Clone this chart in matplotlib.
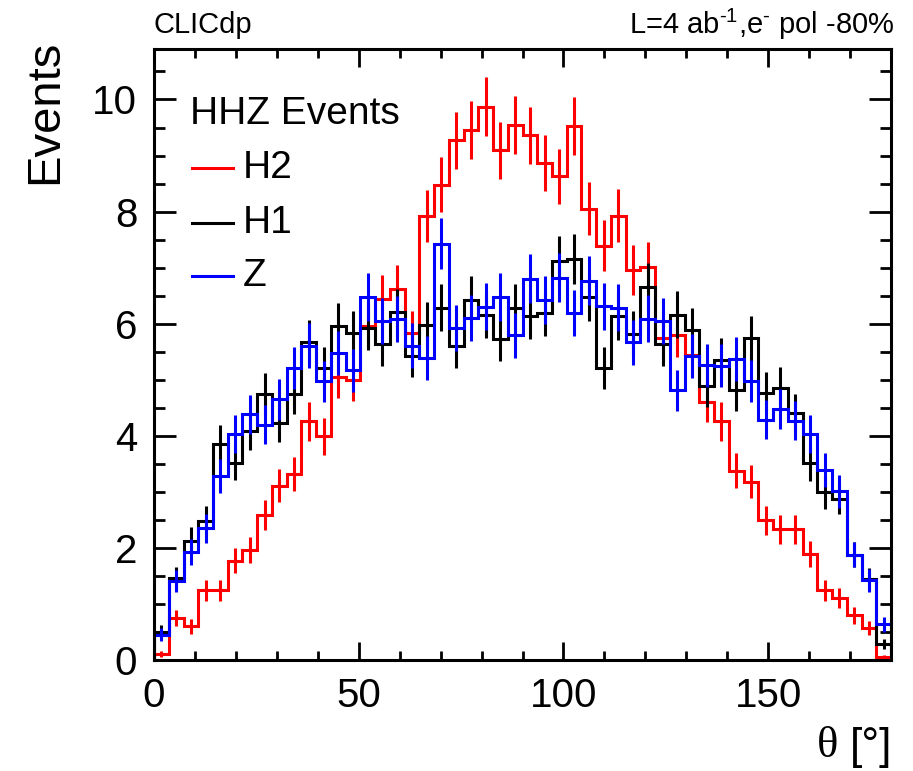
import numpy as np
import matplotlib
matplotlib.use("Agg")
import matplotlib.pyplot as plt
from matplotlib.ticker import MultipleLocator

plt.rcParams["font.family"] = ["Liberation Sans", "DejaVu Sans"]
plt.rcParams["mathtext.default"] = "regular"

# ---------------------------------------------------------------------------
# Data: 50 bins of theta over [0, 180] degrees
# ---------------------------------------------------------------------------
theta_range = (0.0, 180.0)
n_bins = 50

h2_events = [0.10, 0.75, 0.60, 1.24, 1.24, 1.77, 1.96, 2.59, 3.11, 3.32,
             4.26, 3.99, 5.05, 5.00, 5.95, 6.44, 6.62, 5.83, 7.92, 8.48,
             9.27, 9.46, 9.87, 9.09, 9.55, 9.36, 8.86, 8.63, 9.52, 8.05,
             7.39, 7.93, 6.96, 7.01, 5.74, 5.80, 5.45, 4.61, 4.26, 3.38,
             3.18, 2.49, 2.33, 2.33, 1.89, 1.24, 1.10, 0.80, 0.57, 0.05]

h1_events = [0.50, 1.46, 2.13, 2.48, 3.86, 3.52, 4.08, 4.75, 4.23, 4.75,
             5.67, 5.21, 5.96, 5.83, 5.93, 5.64, 6.20, 5.43, 5.98, 6.28,
             5.61, 6.42, 6.16, 5.73, 6.28, 6.14, 6.19, 7.11, 7.16, 6.48,
             5.21, 6.13, 5.82, 6.65, 5.64, 6.16, 5.88, 4.89, 5.35, 4.81,
             5.74, 4.77, 4.86, 4.40, 3.51, 2.99, 2.88, 1.88, 1.44, 0.28]

z_events = [0.45, 1.41, 1.92, 2.35, 3.29, 4.03, 4.38, 4.20, 4.65, 5.21,
            5.61, 4.97, 5.47, 5.17, 6.48, 6.05, 6.08, 5.61, 5.39, 7.43,
            5.92, 6.10, 6.30, 6.48, 5.79, 6.80, 6.42, 6.82, 6.19, 6.77,
            6.31, 6.28, 5.67, 6.09, 6.04, 4.81, 5.42, 5.26, 5.25, 5.37,
            4.98, 4.29, 4.48, 4.27, 4.03, 3.39, 3.01, 1.88, 1.42, 0.64]

# per-event weight (errors are sqrt(sum w^2) of the weighted histogram)
event_weight = 0.028

series = [
    ("H2", h2_events, "#ff0000"),
    ("H1", h1_events, "#000000"),
    ("Z", z_events, "#0000ff"),
]

# ---------------------------------------------------------------------------
# Figure
# ---------------------------------------------------------------------------
fig = plt.figure(figsize=(9.13, 7.71), dpi=100)
ax = fig.add_axes([0.1687, 0.1440, 0.8072, 0.7924])

edges = np.linspace(theta_range[0], theta_range[1], n_bins + 1)
centers = 0.5 * (edges[:-1] + edges[1:])

lw = 2.2
for label, values, color in series:
    vals = np.asarray(values)
    errs = np.sqrt(vals * event_weight)
    ax.stairs(vals, edges, baseline=0, color=color, lw=lw)
    ax.errorbar(centers, vals, yerr=errs, fmt="none", ecolor=color,
                elinewidth=lw, capsize=0)

ax.set_xlim(*theta_range)
ax.set_ylim(0, 10.9)

ax.xaxis.set_major_locator(MultipleLocator(50))
ax.xaxis.set_minor_locator(MultipleLocator(10))
ax.yaxis.set_major_locator(MultipleLocator(2))
ax.yaxis.set_minor_locator(MultipleLocator(0.5))

ax.tick_params(which="both", direction="in", top=True, right=True,
               width=2.0, labelsize=29)
ax.tick_params(axis="x", which="major", length=13, pad=12)
ax.tick_params(axis="x", which="minor", length=6.5)
ax.tick_params(axis="y", which="major", length=16, pad=12)
ax.tick_params(axis="y", which="minor", length=8)
for spine in ax.spines.values():
    spine.set_linewidth(2.2)

# axis titles
fig.text(0.049, 0.855, "Events", rotation=90, fontsize=34,
         ha="center", va="center")
fig.text(0.977, 0.030, "[°]", fontsize=32, ha="right", va="center")
fig.text(0.918, 0.032, "θ", fontsize=32, ha="right", va="center",
         family=["Liberation Serif", "DejaVu Serif"])

# header labels (ROOT uses plain hyphens in the superscripts)
fig.text(0.1676, 0.968, "CLICdp", fontsize=21, ha="left", va="center")
fig.text(0.980, 0.968, "L=4 ab$^{\u2010 1}$,e$^{\u2010}$ pol -80%".replace("\u2010 ", "\u2010"),
         fontsize=21, ha="right", va="center")

# legend, drawn by hand in ROOT style
ax.text(0.0488, 0.893, "HHZ Events", transform=ax.transAxes,
        fontsize=28, ha="left", va="center")
legend_rows = [0.805, 0.715, 0.628]
for (label, _, color), y in zip(series, legend_rows):
    ax.plot([0.0516, 0.1072], [y, y], color=color, lw=lw,
            transform=ax.transAxes)
    ax.text(0.1208, y, label, transform=ax.transAxes, fontsize=28,
            ha="left", va="center")

fig.savefig("out.png", dpi=100)
